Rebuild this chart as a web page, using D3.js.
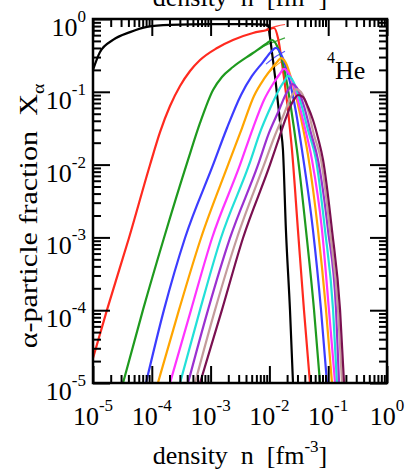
<!DOCTYPE html>
<html>
<head>
<meta charset="utf-8">
<script src="https://cdn.jsdelivr.net/npm/d3@7"></script>
<style>
  html, body { margin: 0; padding: 0; background: #fff; }
  svg { display: block; }
  text { font-family: "Liberation Serif", "DejaVu Serif", serif; fill: #000; }
</style>
</head>
<body>
<svg id="chart" width="405" height="476"></svg>
<script>
// density n [fm^-3] vs alpha-particle fraction X_alpha for 4He
const xTickExps = [-5, -4, -3, -2, -1, 0];
const yTickExps = [0, -1, -2, -3, -4, -5];

const seriesNames = ["black", "red", "green", "blue", "orange", "magenta", "cyan", "violet", "rosybrown", "maroon"];
const seriesColors = ["#000000", "#ff2a1f", "#1e9a1e", "#3c3cff", "#ffa500", "#ff33ff", "#22e0d8", "#9b30d0", "#c49c9c", "#7a1050"];

// [n, X_alpha] pairs
const blackData = [[1.00e-5, 0.20], [1.31e-5, 0.35], [2.19e-5, 0.515], [4.26e-5, 0.66], [8.28e-5, 0.78], [2.04e-4, 0.83], [1.02e-3, 0.85], [4.68e-3, 0.85], [9.46e-3, 0.83], [1.02e-2, 0.57], [1.11e-2, 0.34], [1.25e-2, 0.16], [1.40e-2, 0.070], [1.57e-2, 0.030], [1.70e-2, 0.016], [1.91e-2, 1.26e-3], [2.24e-2, 1.0e-4], [2.52e-2, 1.0e-5]];
const redData = [[1.00e-5, 2.20e-5], [1.73e-5, 1.01e-4], [4.09e-5, 9.82e-4], [9.31e-5, 9.88e-3], [1.38e-4, 0.0280], [2.04e-4, 0.0638], [3.02e-4, 0.120], [4.47e-4, 0.193], [6.61e-4, 0.273], [1.29e-3, 0.400], [2.40e-3, 0.515], [5.26e-3, 0.642], [9.10e-3, 0.706], [1.20e-2, 0.752], [1.40e-2, 0.548], [1.70e-2, 0.199], [2.07e-2, 0.0562], [2.42e-2, 0.0159], [3.06e-2, 1.26e-3], [3.87e-2, 1.01e-4], [4.90e-2, 1.0e-5]];
const greenData = [[3.24e-5, 1.0e-5], [7.08e-5, 1.01e-4], [1.61e-4, 9.82e-4], [4.13e-4, 0.0116], [6.61e-4, 0.0373], [1.10e-3, 0.106], [1.56e-3, 0.160], [2.40e-3, 0.219], [5.26e-3, 0.341], [8.75e-3, 0.454], [1.11e-2, 0.515], [1.35e-2, 0.426], [1.77e-2, 0.212], [2.33e-2, 0.0599], [2.94e-2, 0.0159], [4.19e-2, 1.26e-3], [5.74e-2, 1.01e-4], [7.26e-2, 1.0e-5]];
const blueData = [[7.96e-5, 1.0e-5], [1.61e-4, 1.01e-4], [3.67e-4, 9.82e-4], [1.10e-3, 9.88e-3], [1.90e-3, 0.0318], [3.29e-3, 0.0904], [5.06e-3, 0.165], [7.78e-3, 0.256], [1.06e-2, 0.352], [1.29e-2, 0.400], [1.57e-2, 0.331], [2.15e-2, 0.155], [2.83e-2, 0.0528], [3.58e-2, 0.0159], [5.51e-2, 1.26e-3], [7.55e-2, 1.01e-4], [9.55e-2, 1.0e-5]];
const orangeData = [[1.27e-4, 1.0e-5], [2.90e-4, 1.01e-4], [6.87e-4, 9.82e-4], [1.98e-3, 9.88e-3], [3.42e-3, 0.0318], [5.47e-3, 0.0876], [8.09e-3, 0.150], [1.11e-2, 0.212], [1.35e-2, 0.256], [1.57e-2, 0.291], [1.91e-2, 0.249], [2.52e-2, 0.124], [3.44e-2, 0.0437], [4.53e-2, 0.0136], [6.71e-2, 1.26e-3], [9.18e-2, 1.01e-4], [0.116, 1.0e-5]];
const magentaData = [[2.04e-4, 1.0e-5], [4.65e-4, 1.01e-4], [1.06e-3, 9.82e-4], [3.16e-3, 9.88e-3], [5.26e-3, 0.0318], [8.09e-3, 0.0772], [1.15e-2, 0.128], [1.46e-2, 0.170], [1.77e-2, 0.206], [2.15e-2, 0.176], [2.83e-2, 0.0963], [3.87e-2, 0.0361], [5.30e-2, 0.0116], [7.85e-2, 1.26e-3], [0.103, 1.01e-4], [0.131, 1.0e-5]];
const cyanData = [[3.02e-4, 1.0e-5], [6.61e-4, 1.01e-4], [1.50e-3, 9.82e-4], [4.50e-3, 9.88e-3], [7.19e-3, 0.0299], [1.11e-2, 0.0680], [1.51e-2, 0.113], [1.84e-2, 0.145], [2.07e-2, 0.165], [2.52e-2, 0.141], [3.31e-2, 0.0772], [4.53e-2, 0.0299], [6.21e-2, 0.0116], [8.83e-2, 1.26e-3], [0.121, 1.01e-4], [0.141, 1.0e-5]];
const violetData = [[4.13e-4, 1.0e-5], [9.04e-4, 1.01e-4], [2.14e-3, 9.82e-4], [6.40e-3, 9.88e-3], [9.84e-3, 0.0272], [1.46e-2, 0.0562], [1.91e-2, 0.0933], [2.24e-2, 0.116], [2.42e-2, 0.128], [2.94e-2, 0.113], [3.87e-2, 0.0638], [5.09e-2, 0.0272], [6.71e-2, 0.0116], [9.93e-2, 1.26e-3], [0.136, 1.01e-4], [0.153, 1.0e-5]];
const rosyData = [[5.43e-4, 1.0e-5], [1.19e-3, 1.01e-4], [2.81e-3, 9.82e-4], [8.09e-3, 9.88e-3], [1.25e-2, 0.0255], [1.77e-2, 0.0496], [2.24e-2, 0.0796], [2.62e-2, 0.0994], [2.83e-2, 0.109], [3.44e-2, 0.0994], [4.53e-2, 0.0562], [5.74e-2, 0.0255], [7.55e-2, 0.0116], [0.107, 1.26e-3], [0.147, 1.01e-4], [0.172, 1.0e-5]];
const maroonData = [[6.61e-4, 1.0e-5], [1.56e-3, 1.01e-4], [3.56e-3, 9.82e-4], [1.02e-2, 9.88e-3], [1.46e-2, 0.0232], [1.91e-2, 0.0437], [2.33e-2, 0.0659], [2.72e-2, 0.0822], [3.06e-2, 0.0904], [3.72e-2, 0.0849], [4.53e-2, 0.0618], [5.51e-2, 0.0410], [6.71e-2, 0.0232], [8.17e-2, 0.0116], [0.116, 1.26e-3], [0.159, 1.01e-4], [0.186, 1.0e-5]];

// thin side branches near the maxima
const redSpur = [[8.75e-3, 0.72], [1.35e-2, 0.80], [1.84e-2, 0.84]];
const greenSpur = [[7.0e-3, 0.40], [1.02e-2, 0.46], [1.84e-2, 0.55]];
const blueSpur = [[8.75e-3, 0.24], [1.25e-2, 0.30], [1.84e-2, 0.36]];
const orangeSpur = [[1.02e-2, 0.19], [1.40e-2, 0.24], [1.84e-2, 0.28]];
const magentaSpur = [[1.25e-2, 0.15], [1.64e-2, 0.19], [1.99e-2, 0.22]];

const seriesData = [blackData, redData, greenData, blueData, orangeData, magentaData, cyanData, violetData, rosyData, maroonData];
const spurData = [redSpur, greenSpur, blueSpur, orangeSpur, magentaSpur];
const spurColors = [seriesColors[1], seriesColors[2], seriesColors[3], seriesColors[4], seriesColors[5]];

const xTitle = ["density", "n", "[fm", "-3", "]"];
const yTitle = ["α-particle fraction", "X", "α"];
const nucleusLabel = ["4", "He"];

const L = 93, R = 387, T = 19, B = 383;
const svg = d3.select("#chart");

const x = d3.scaleLog().domain([1e-5, 1]).range([L, R]);
const y = d3.scaleLog().domain([1e-5, 1]).range([B, T]);

const majorX = xTickExps.map(e => Math.pow(10, e));
const majorY = yTickExps.map(e => Math.pow(10, e));
function minors(exps) {
  const out = [];
  for (let e = d3.min(exps); e < d3.max(exps); e++)
    for (let m = 2; m <= 9; m++) out.push(m * Math.pow(10, e));
  return out;
}
const minorX = minors(xTickExps);
const minorY = minors(yTickExps);

svg.append("defs").append("clipPath").attr("id", "plotclip")
  .append("rect").attr("x", L).attr("y", T).attr("width", R - L).attr("height", B - T);

// curves
const line = d3.line()
  .x(d => x(d[0]))
  .y(d => y(d[1]))
  .curve(d3.curveMonotoneX);

const plot = svg.append("g").attr("clip-path", "url(#plotclip)");
plot.selectAll("path.spur").data(spurData).join("path")
  .attr("class", "spur")
  .attr("d", line)
  .attr("fill", "none")
  .attr("stroke", (d, i) => spurColors[i])
  .attr("stroke-width", 1.2)
  .attr("opacity", 0.85);
plot.selectAll("path.series").data(seriesData).join("path")
  .attr("class", "series")
  .attr("d", line)
  .attr("fill", "none")
  .attr("stroke", (d, i) => seriesColors[i])
  .attr("stroke-width", 2.2)
  .attr("stroke-linejoin", "round");

// tick marks on all four sides, pointing inward
function tickAxes(axisFn, scale, vals, size, transform) {
  const g = svg.append("g").attr("transform", transform)
    .call(axisFn(scale).tickValues(vals).tickSize(size).tickFormat(""));
  g.select(".domain").remove();
  g.selectAll(".tick line").attr("stroke", "#000").attr("stroke-width", 2);
}
[[majorX, -17], [minorX, -8]].forEach(([v, s]) => {
  tickAxes(d3.axisBottom, x, v, s, `translate(0,${B})`);
  tickAxes(d3.axisTop, x, v, s, `translate(0,${T})`);
});
[[majorY, -17], [minorY, -8]].forEach(([v, s]) => {
  tickAxes(d3.axisLeft, y, v, s, `translate(${L},0)`);
  tickAxes(d3.axisRight, y, v, s, `translate(${R},0)`);
});

svg.append("rect").attr("x", L).attr("y", T).attr("width", R - L).attr("height", B - T)
  .attr("fill", "none").attr("stroke", "#000").attr("stroke-width", 2.5);

// tick labels
const xl = svg.append("g").selectAll("text").data(xTickExps).join("text")
  .attr("x", d => x(Math.pow(10, d)))
  .attr("y", 425)
  .attr("text-anchor", "middle")
  .attr("font-size", 26);
xl.append("tspan").text("10");
xl.append("tspan").attr("dy", -14).attr("font-size", 17).text(d => d === 0 ? "0" : String(d));

const yl = svg.append("g").selectAll("text").data(yTickExps).join("text")
  .attr("x", 86)
  .attr("y", d => y(Math.pow(10, d)) + 17)
  .attr("text-anchor", "end")
  .attr("font-size", 26);
yl.append("tspan").text("10");
yl.append("tspan").attr("dy", -14).attr("font-size", 17).text(d => d === 0 ? "0" : String(d));

// axis titles
function xTitleAt(yPos) {
  const t = svg.append("text").attr("x", 240).attr("y", yPos)
    .attr("text-anchor", "middle").attr("font-size", 26)
    .attr("xml:space", "preserve");
  t.append("tspan").text(xTitle[0] + "  " + xTitle[1] + "  " + xTitle[2]);
  t.append("tspan").attr("dy", -12).attr("font-size", 17).text(xTitle[3]);
  t.append("tspan").attr("dy", 12).text(xTitle[4]);
}
xTitleAt(464);
xTitleAt(6);

const yt = svg.append("text")
  .attr("transform", "translate(37,216) rotate(-90) scale(1.16,1)")
  .attr("text-anchor", "middle").attr("font-size", 26)
  .attr("xml:space", "preserve");
yt.append("tspan").text(yTitle[0] + "  " + yTitle[1]);
yt.append("tspan").attr("dy", 7).attr("font-size", 17).text(yTitle[2]);

const nl = svg.append("text").attr("x", 327).attr("y", 79).attr("font-size", 26);
nl.append("tspan").attr("dy", -16).attr("font-size", 16).text(nucleusLabel[0]);
nl.append("tspan").attr("dy", 16).text(nucleusLabel[1]);
</script>
</body>
</html>
